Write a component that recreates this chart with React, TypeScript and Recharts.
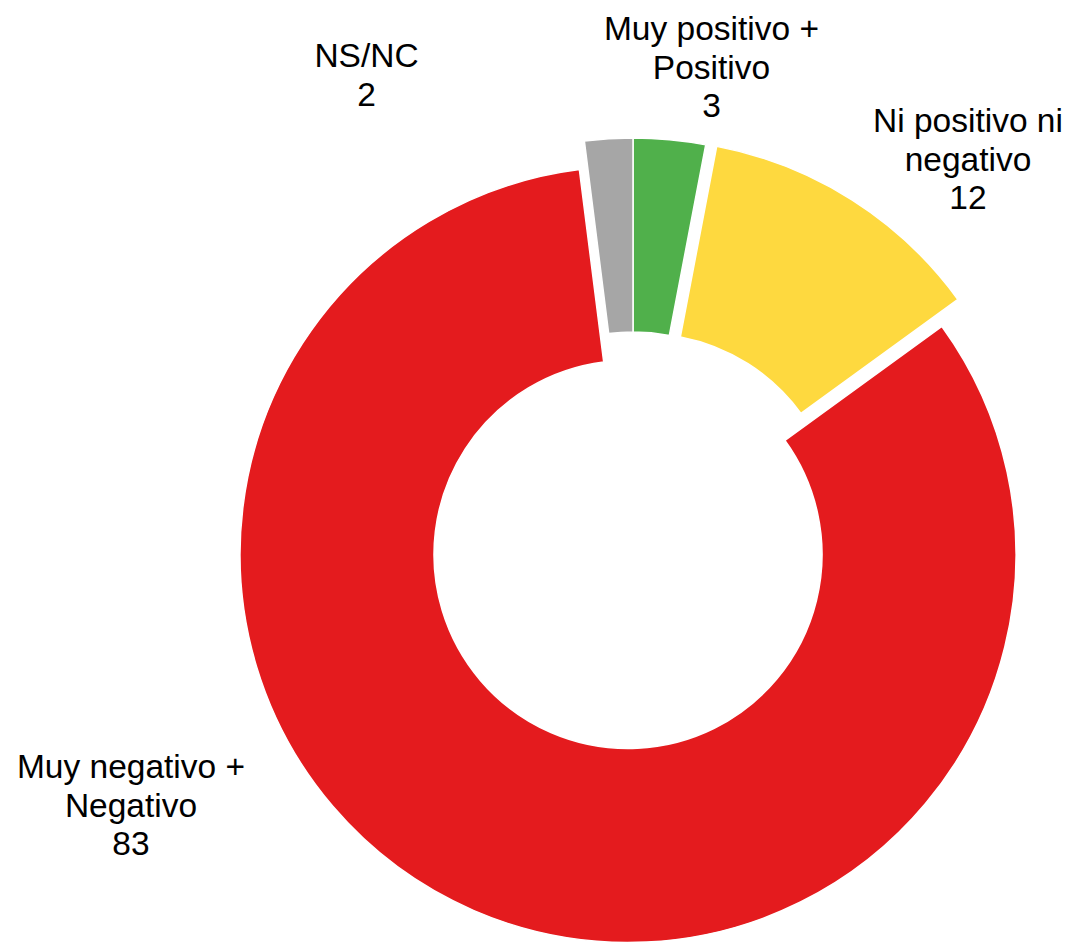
import { PieChart, Pie, Cell } from 'recharts';

const categories = ['Muy positivo + Positivo', 'Ni positivo ni negativo', 'Muy negativo + Negativo', 'NS/NC'];
const values = [3, 12, 83, 2];
const labelLines = [['Muy positivo +', 'Positivo'], ['Ni positivo ni', 'negativo'], ['Muy negativo +', 'Negativo'], ['NS/NC']];

const COLORS = ['#50B04B', '#FED93F', '#E41B1E', '#A6A6A6'];
// exploded slices: pixel shift of each slice's centre
const EXPLODE = [[5, -28.5], [16, -27], [0, 0], [5, -28.5]];
// label block position (centre x, first baseline) relative to pie centre
const LABEL_POS = [[83.5, -514.5], [340, -422.5], [-497, 223.5], [-261.5, -487.5]];

const CX = 628;
const CY = 554.5;
const LINE_H = 38.5;

const data = categories.map((name, i) => ({ name, value: values[i] }));

function renderLabel(props: any) {
  const { index } = props;
  const cx = typeof props.cx === 'number' ? props.cx : CX;
  const cy = typeof props.cy === 'number' ? props.cy : CY;
  const [dx, dy] = LABEL_POS[index];
  const lines = [...labelLines[index], String(values[index])];
  const x = cx + dx;
  return (
    <text
      key={`lbl-${index}`}
      x={x}
      y={cy + dy}
      textAnchor="middle"
      fill="#000"
      fontSize={33.5}
      fontFamily="'Liberation Sans', Arial, sans-serif"
    >
      {lines.map((line, j) => (
        <tspan key={j} x={x} dy={j === 0 ? 0 : LINE_H}>
          {line}
        </tspan>
      ))}
    </text>
  );
}

export default function App() {
  return (
    <div style={{ position: 'absolute', left: 0, top: 0, background: '#fff' }}>
      <PieChart width={1074} height={942} margin={{ top: 0, right: 0, bottom: 0, left: 0 }}>
        {values.map((_, k) => (
          <Pie
            key={k}
            data={data}
            dataKey="value"
            nameKey="name"
            cx={CX + EXPLODE[k][0]}
            cy={CY + EXPLODE[k][1]}
            innerRadius={194}
            outerRadius={388}
            startAngle={90}
            endAngle={-270}
            labelLine={false}
            label={k === 2 ? renderLabel : false}
            isAnimationActive={false}
          >
            {data.map((_, i) => (
              <Cell
                key={i}
                fill={i === k ? COLORS[i] : 'transparent'}
                stroke={i === k ? '#fff' : 'none'}
                strokeWidth={i === k ? 1.5 : 0}
              />
            ))}
          </Pie>
        ))}
      </PieChart>
    </div>
  );
}
